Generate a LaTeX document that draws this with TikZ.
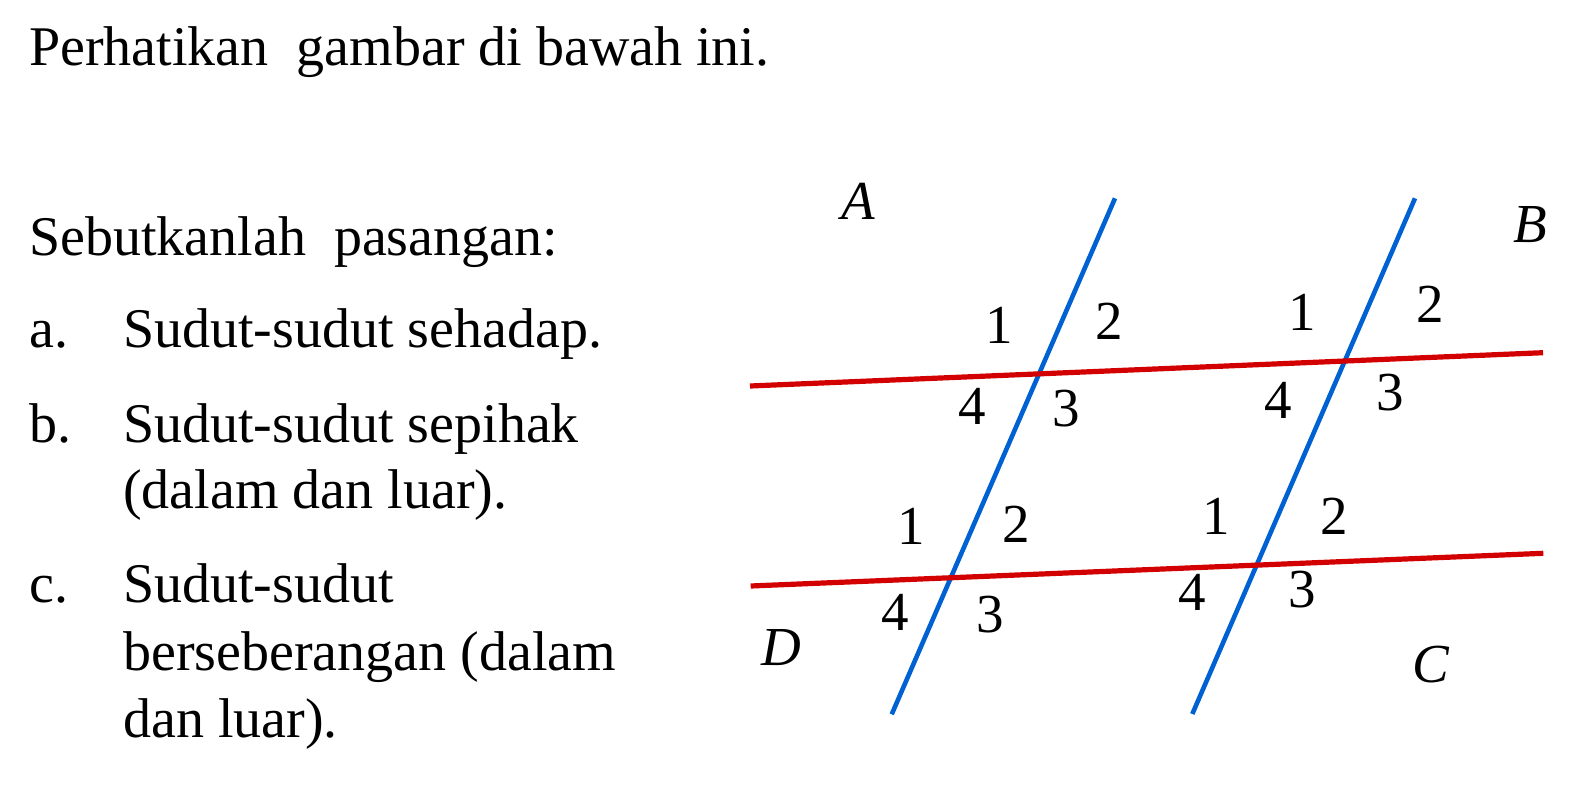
\documentclass[tikz,border=0pt]{standalone}
\usepackage{fontspec}
\setmainfont{Liberation Serif}
\definecolor{myred}{RGB}{210,0,0}
\definecolor{myblue}{RGB}{0,98,210}
\begin{document}
\begin{tikzpicture}[x=1pt,y=-1pt,
  txt/.style={anchor=base west,inner sep=0pt,font=\fontsize{56}{66}\selectfont},
  lbl/.style={inner sep=0pt,font=\fontsize{55}{60}\selectfont},
  lett/.style={inner sep=0pt,font=\fontsize{55}{60}\selectfont\itshape},
  redline/.style={draw=myred,line width=5.2pt},
  blueline/.style={draw=myblue,line width=4.6pt}]
\useasboundingbox (0,0) rectangle (1596,797);

% question text
\node[txt] (t0) at (29,66) {Perhatikan\ \ gambar di bawah ini.};
\node[txt] (t1) at (29,255) {Sebutkanlah\ \ pasangan:};
\node[txt] (la) at (29,347) {a.};
\node[txt] (ta) at (123,347) {Sudut-sudut sehadap.};
\node[txt] (lb) at (29,442) {b.};
\node[txt] (tb1) at (123,442) {Sudut-sudut sepihak};
\node[txt] (tb2) at (123,508) {(dalam dan luar).};
\node[txt] (lc) at (29,602) {c.};
\node[txt] (tc1) at (123,602) {Sudut-sudut};
\node[txt] (tc2) at (123,670) {berseberangan (dalam};
\node[txt] (tc3) at (123,737) {dan luar).};

% line end points
\coordinate (b1t) at (1115,198.3);
\coordinate (b1b) at (891.7,714.3);
\coordinate (b2t) at (1415,198.3);
\coordinate (b2b) at (1192.3,714);
\coordinate (r1l) at (750,386);
\coordinate (r1r) at (1543,352.7);
\coordinate (r2l) at (750.7,586);
\coordinate (r2r) at (1543.3,553.3);

\draw[blueline] (b1t) -- (b1b);
\draw[blueline] (b2t) -- (b2b);
\draw[redline] (r1l) -- (r1r);
\draw[redline] (r2l) -- (r2r);

% vertex letters
\node[lett] (A) at (858.3,201.7) {A};
\node[lett] (B) at (1530,224.2) {B};
\node[lett] (C) at (1431.2,664.2) {C};
\node[lett] (D) at (781.7,647.5) {D};

% angle numbers, top-left
\node[lbl] (tl1) at (999.2,325.3) {1};
\node[lbl] (tl2) at (1109.2,320.8) {2};
\node[lbl] (tl4) at (972.2,406.7) {4};
\node[lbl] (tl3) at (1066.7,408.3) {3};
% top-right
\node[lbl] (tr1) at (1302.5,312) {1};
\node[lbl] (tr2) at (1430,304.7) {2};
\node[lbl] (tr4) at (1278.3,400) {4};
\node[lbl] (tr3) at (1390.5,392.2) {3};
% bottom-left
\node[lbl] (bl1) at (911.7,526.2) {1};
\node[lbl] (bl2) at (1016.7,523.8) {2};
\node[lbl] (bl4) at (895.5,612.3) {4};
\node[lbl] (bl3) at (990.5,614.2) {3};
% bottom-right
\node[lbl] (br1) at (1215.8,516.2) {1};
\node[lbl] (br2) at (1334.3,516.2) {2};
\node[lbl] (br4) at (1192.5,592) {4};
\node[lbl] (br3) at (1302.5,589.2) {3};
\end{tikzpicture}
\end{document}
